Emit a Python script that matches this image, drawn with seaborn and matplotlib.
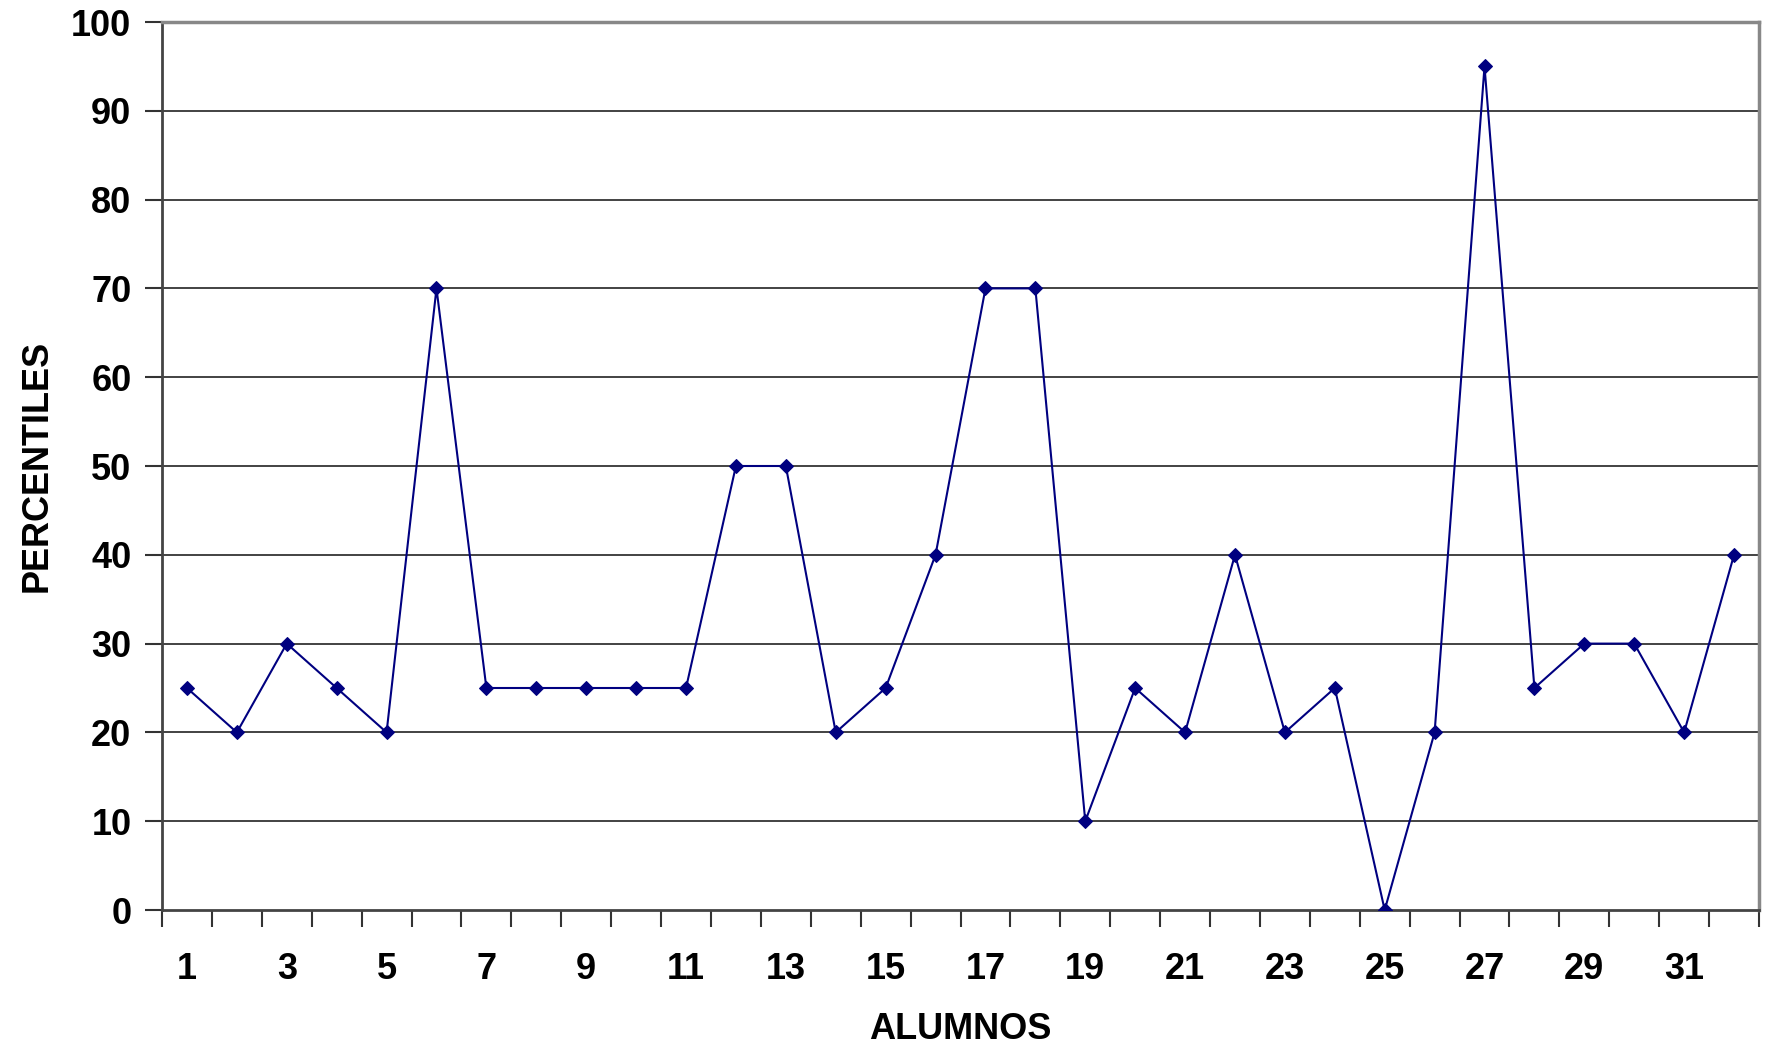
import matplotlib
matplotlib.use("Agg")
import matplotlib.pyplot as plt
import seaborn as sns
import pandas as pd
import numpy as np
from matplotlib.ticker import FixedLocator, NullFormatter

alumnos = list(range(1, 33))
percentiles = [25, 20, 30, 25, 20, 70, 25, 25, 25, 25, 25, 50, 50, 20, 25, 40,
               70, 70, 10, 25, 20, 40, 20, 25, 0, 20, 95, 25, 30, 30, 20, 40]
y_ticks = [0, 10, 20, 30, 40, 50, 60, 70, 80, 90, 100]
x_labels = [str(i) if i % 2 == 1 else "" for i in alumnos]

sns.set_theme(style="white")
plt.rcParams['font.family'] = ['Liberation Sans', 'DejaVu Sans']

df = pd.DataFrame({"ALUMNOS": alumnos, "PERCENTILES": percentiles})

fig = plt.figure(figsize=(17.67, 10.48), dpi=100)
ax = fig.add_axes([162/1767, 1 - 910/1048, (1759-162)/1767, (910-22)/1048])

for y in y_ticks[1:-1]:
    ax.axhline(y, color="#222222", lw=1.2, zorder=1)

sns.lineplot(data=df, x="ALUMNOS", y="PERCENTILES", ax=ax, color="#000080",
             lw=1.5, marker="D", markersize=7.5, markeredgecolor="#000080",
             markerfacecolor="#000080", zorder=3)

ax.set_xlim(0.5, 32.5)
ax.set_ylim(0, 100)
ax.set_yticks(y_ticks)
ax.set_xticks(alumnos)
ax.set_xticklabels(x_labels)
ax.xaxis.set_minor_locator(FixedLocator(np.arange(0.5, 33, 1)))
ax.xaxis.set_minor_formatter(NullFormatter())
ax.tick_params(axis="x", which="major", length=0, pad=30, labelsize=26)
ax.tick_params(axis="x", which="minor", length=12, width=1.5, color="#333333", direction="out", bottom=True)
ax.tick_params(axis="y", which="major", length=12, width=1.5, color="#333333", direction="out", left=True, pad=10, labelsize=26)
for lab in ax.get_xticklabels() + ax.get_yticklabels():
    lab.set_fontweight("bold")
    lab.set_color("black")

for s in ["left", "bottom"]:
    ax.spines[s].set_color("#444444")
    ax.spines[s].set_linewidth(2)
for s in ["top", "right"]:
    ax.spines[s].set_color("#888888")
    ax.spines[s].set_linewidth(2.5)

ax.set_xlabel("ALUMNOS", fontsize=26, fontweight="bold", color="black", labelpad=18)
ax.set_ylabel("PERCENTILES", fontsize=26, fontweight="bold", color="black", labelpad=12)

fig.savefig("out.png", dpi=100, facecolor="white")
